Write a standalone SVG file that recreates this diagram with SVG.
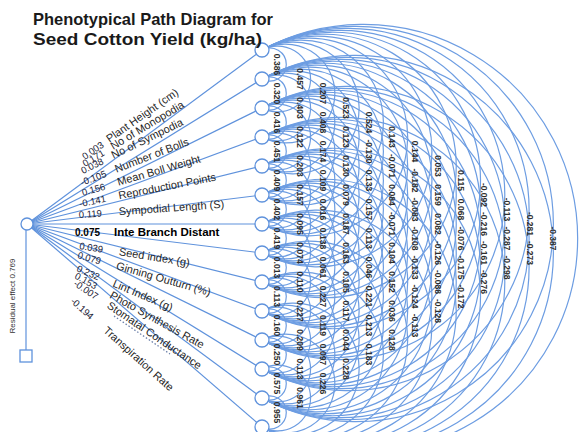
<svg xmlns="http://www.w3.org/2000/svg" width="588" height="432" viewBox="0 0 588 432">
<style>
.arc{fill:none;stroke:#6d9de2;stroke-width:1.2}
.ln{fill:none;stroke:#5f92dc;stroke-width:1.2}
.nd{fill:#fff;stroke:#5f92dc;stroke-width:1.3}
.c{font-family:'Liberation Sans',Arial,sans-serif;font-size:8.5px;font-weight:bold;fill:#2e2e2e;text-anchor:middle}
.v{font-family:'Liberation Sans',Arial,sans-serif;font-size:9.5px;fill:#222236}
.n{font-family:'Liberation Sans',Arial,sans-serif;font-size:11px;fill:#1f1f1f}
.b{font-family:'Liberation Sans',Arial,sans-serif;font-size:11.5px;font-weight:bold;fill:#000}
.t{font-family:'Liberation Sans',Arial,sans-serif;font-size:17px;font-weight:bold;fill:#1a1a1a}
.r{font-family:'Liberation Sans',Arial,sans-serif;font-size:8px;fill:#333}
</style>
<rect width="588" height="432" fill="#fff"/>
<g id="connectors">
<path class="ln" d="M27 224L262 50"/>
<path class="ln" d="M27 224L262 79"/>
<path class="ln" d="M27 224L262 108"/>
<path class="ln" d="M27 224L262 137"/>
<path class="ln" d="M27 224L262 166"/>
<path class="ln" d="M27 224L262 195"/>
<path class="ln" d="M27 224L262 224"/>
<path class="ln" d="M27 224L262 253"/>
<path class="ln" d="M27 224L262 282"/>
<path class="ln" d="M27 224L262 311"/>
<path class="ln" d="M27 224L262 340"/>
<path class="ln" d="M27 224L262 369"/>
<path class="ln" d="M27 224L262 398"/>
<path class="ln" d="M27 224L262 427"/>
<path class="ln" d="M26 230L26 350"/>
<path d="M114 316L170 354" fill="none" stroke="#6a7fa8" stroke-width="1.3" stroke-dasharray="1.5 2"/>
<path class="arc" d="M262 50A16.47 16.47 0 1 1 262 79"/>
<path class="arc" d="M262 79A16.47 16.47 0 1 1 262 108"/>
<path class="arc" d="M262 108A16.47 16.47 0 1 1 262 137"/>
<path class="arc" d="M262 137A16.47 16.47 0 1 1 262 166"/>
<path class="arc" d="M262 166A16.47 16.47 0 1 1 262 195"/>
<path class="arc" d="M262 195A16.47 16.47 0 1 1 262 224"/>
<path class="arc" d="M262 224A16.47 16.47 0 1 1 262 253"/>
<path class="arc" d="M262 253A16.47 16.47 0 1 1 262 282"/>
<path class="arc" d="M262 282A16.47 16.47 0 1 1 262 311"/>
<path class="arc" d="M262 311A16.47 16.47 0 1 1 262 340"/>
<path class="arc" d="M262 340A16.47 16.47 0 1 1 262 369"/>
<path class="arc" d="M262 369A16.47 16.47 0 1 1 262 398"/>
<path class="arc" d="M262 398A16.47 16.47 0 1 1 262 427"/>
<path class="arc" d="M262 50A32.94 32.94 0 1 1 262 108"/>
<path class="arc" d="M262 79A32.94 32.94 0 1 1 262 137"/>
<path class="arc" d="M262 108A32.94 32.94 0 1 1 262 166"/>
<path class="arc" d="M262 137A32.94 32.94 0 1 1 262 195"/>
<path class="arc" d="M262 166A32.94 32.94 0 1 1 262 224"/>
<path class="arc" d="M262 195A32.94 32.94 0 1 1 262 253"/>
<path class="arc" d="M262 224A32.94 32.94 0 1 1 262 282"/>
<path class="arc" d="M262 253A32.94 32.94 0 1 1 262 311"/>
<path class="arc" d="M262 282A32.94 32.94 0 1 1 262 340"/>
<path class="arc" d="M262 311A32.94 32.94 0 1 1 262 369"/>
<path class="arc" d="M262 340A32.94 32.94 0 1 1 262 398"/>
<path class="arc" d="M262 369A32.94 32.94 0 1 1 262 427"/>
<path class="arc" d="M262 50A49.41 49.41 0 1 1 262 137"/>
<path class="arc" d="M262 79A49.41 49.41 0 1 1 262 166"/>
<path class="arc" d="M262 108A49.41 49.41 0 1 1 262 195"/>
<path class="arc" d="M262 137A49.41 49.41 0 1 1 262 224"/>
<path class="arc" d="M262 166A49.41 49.41 0 1 1 262 253"/>
<path class="arc" d="M262 195A49.41 49.41 0 1 1 262 282"/>
<path class="arc" d="M262 224A49.41 49.41 0 1 1 262 311"/>
<path class="arc" d="M262 253A49.41 49.41 0 1 1 262 340"/>
<path class="arc" d="M262 282A49.41 49.41 0 1 1 262 369"/>
<path class="arc" d="M262 311A49.41 49.41 0 1 1 262 398"/>
<path class="arc" d="M262 340A49.41 49.41 0 1 1 262 427"/>
<path class="arc" d="M262 50A65.88 65.88 0 1 1 262 166"/>
<path class="arc" d="M262 79A65.88 65.88 0 1 1 262 195"/>
<path class="arc" d="M262 108A65.88 65.88 0 1 1 262 224"/>
<path class="arc" d="M262 137A65.88 65.88 0 1 1 262 253"/>
<path class="arc" d="M262 166A65.88 65.88 0 1 1 262 282"/>
<path class="arc" d="M262 195A65.88 65.88 0 1 1 262 311"/>
<path class="arc" d="M262 224A65.88 65.88 0 1 1 262 340"/>
<path class="arc" d="M262 253A65.88 65.88 0 1 1 262 369"/>
<path class="arc" d="M262 282A65.88 65.88 0 1 1 262 398"/>
<path class="arc" d="M262 311A65.88 65.88 0 1 1 262 427"/>
<path class="arc" d="M262 50A82.35 82.35 0 1 1 262 195"/>
<path class="arc" d="M262 79A82.35 82.35 0 1 1 262 224"/>
<path class="arc" d="M262 108A82.35 82.35 0 1 1 262 253"/>
<path class="arc" d="M262 137A82.35 82.35 0 1 1 262 282"/>
<path class="arc" d="M262 166A82.35 82.35 0 1 1 262 311"/>
<path class="arc" d="M262 195A82.35 82.35 0 1 1 262 340"/>
<path class="arc" d="M262 224A82.35 82.35 0 1 1 262 369"/>
<path class="arc" d="M262 253A82.35 82.35 0 1 1 262 398"/>
<path class="arc" d="M262 282A82.35 82.35 0 1 1 262 427"/>
<path class="arc" d="M262 50A98.82 98.82 0 1 1 262 224"/>
<path class="arc" d="M262 79A98.82 98.82 0 1 1 262 253"/>
<path class="arc" d="M262 108A98.82 98.82 0 1 1 262 282"/>
<path class="arc" d="M262 137A98.82 98.82 0 1 1 262 311"/>
<path class="arc" d="M262 166A98.82 98.82 0 1 1 262 340"/>
<path class="arc" d="M262 195A98.82 98.82 0 1 1 262 369"/>
<path class="arc" d="M262 224A98.82 98.82 0 1 1 262 398"/>
<path class="arc" d="M262 253A98.82 98.82 0 1 1 262 427"/>
<path class="arc" d="M262 50A115.29 115.29 0 1 1 262 253"/>
<path class="arc" d="M262 79A115.29 115.29 0 1 1 262 282"/>
<path class="arc" d="M262 108A115.29 115.29 0 1 1 262 311"/>
<path class="arc" d="M262 137A115.29 115.29 0 1 1 262 340"/>
<path class="arc" d="M262 166A115.29 115.29 0 1 1 262 369"/>
<path class="arc" d="M262 195A115.29 115.29 0 1 1 262 398"/>
<path class="arc" d="M262 224A115.29 115.29 0 1 1 262 427"/>
<path class="arc" d="M262 50A131.76 131.76 0 1 1 262 282"/>
<path class="arc" d="M262 79A131.76 131.76 0 1 1 262 311"/>
<path class="arc" d="M262 108A131.76 131.76 0 1 1 262 340"/>
<path class="arc" d="M262 137A131.76 131.76 0 1 1 262 369"/>
<path class="arc" d="M262 166A131.76 131.76 0 1 1 262 398"/>
<path class="arc" d="M262 195A131.76 131.76 0 1 1 262 427"/>
<path class="arc" d="M262 50A148.23 148.23 0 1 1 262 311"/>
<path class="arc" d="M262 79A148.23 148.23 0 1 1 262 340"/>
<path class="arc" d="M262 108A148.23 148.23 0 1 1 262 369"/>
<path class="arc" d="M262 137A148.23 148.23 0 1 1 262 398"/>
<path class="arc" d="M262 166A148.23 148.23 0 1 1 262 427"/>
<path class="arc" d="M262 50A164.7 164.7 0 1 1 262 340"/>
<path class="arc" d="M262 79A164.7 164.7 0 1 1 262 369"/>
<path class="arc" d="M262 108A164.7 164.7 0 1 1 262 398"/>
<path class="arc" d="M262 137A164.7 164.7 0 1 1 262 427"/>
<path class="arc" d="M262 50A181.17 181.17 0 1 1 262 369"/>
<path class="arc" d="M262 79A181.17 181.17 0 1 1 262 398"/>
<path class="arc" d="M262 108A181.17 181.17 0 1 1 262 427"/>
<path class="arc" d="M262 50A197.64 197.64 0 1 1 262 398"/>
<path class="arc" d="M262 79A197.64 197.64 0 1 1 262 427"/>
<path class="arc" d="M262 50A214.11 214.11 0 1 1 262 427"/>
</g>
<g id="hub"><circle class="nd" cx="27" cy="224" r="6"/></g>
<g id="residual"><rect class="nd" x="20" y="350" width="12" height="12"/><text class="r" transform="translate(15 296) rotate(-90)" text-anchor="middle">Residual effect  0.769</text></g>
<g id="n0"><circle class="nd" cx="262" cy="50" r="7"/></g>
<g id="n1"><circle class="nd" cx="262" cy="79" r="7"/></g>
<g id="n2"><circle class="nd" cx="262" cy="108" r="7"/></g>
<g id="n3"><circle class="nd" cx="262" cy="137" r="7"/></g>
<g id="n4"><circle class="nd" cx="262" cy="166" r="7"/></g>
<g id="n5"><circle class="nd" cx="262" cy="195" r="7"/></g>
<g id="n6"><circle class="nd" cx="262" cy="224" r="7"/></g>
<g id="n7"><circle class="nd" cx="262" cy="253" r="7"/></g>
<g id="n8"><circle class="nd" cx="262" cy="282" r="7"/></g>
<g id="n9"><circle class="nd" cx="262" cy="311" r="7"/></g>
<g id="n10"><circle class="nd" cx="262" cy="340" r="7"/></g>
<g id="n11"><circle class="nd" cx="262" cy="369" r="7"/></g>
<g id="n12"><circle class="nd" cx="262" cy="398" r="7"/></g>
<g id="n13"><circle class="nd" cx="262" cy="427" r="7"/></g>
<g id="path-labels">
<g transform="translate(85 160) rotate(-35)"><text class="v">0.003</text><text class="n" x="30">Plant Height (cm)</text></g>
<g transform="translate(85 167) rotate(-31)"><text class="v">0.171</text><text class="n" x="33">No of Monopodia</text></g>
<g transform="translate(83 174) rotate(-26)"><text class="v">0.038</text><text class="n" x="34">No of Sympodia</text></g>
<g transform="translate(82 186) rotate(-21)"><text class="v">-0.105</text><text class="n" x="37">Number of Bolls</text></g>
<g transform="translate(83 196) rotate(-16)"><text class="v">0.156</text><text class="n" x="37">Mean Boll Weight</text></g>
<g transform="translate(80 207) rotate(-11)"><text class="v">-0.141</text><text class="n" x="40">Reproduction Points</text></g>
<g transform="translate(79 218) rotate(-4)"><text class="v">0.119</text><text class="n" x="40">Sympodial Length (S)</text></g>
<g transform="translate(75 236)"><text class="b" style="font-size:10px">0.075</text><text class="b" x="39">Inte Branch Distant</text></g>
<g transform="translate(79 249) rotate(9)"><text class="v">0.039</text><text class="n" x="40">Seed index (g)</text></g>
<g transform="translate(77 258) rotate(16)"><text class="v">0.079</text><text class="n" x="40">Ginning Outturn (%)</text></g>
<g transform="translate(76 271) rotate(23)"><text class="v">0.232</text><text class="n" x="39">Lint Index (g)</text></g>
<g transform="translate(74 278) rotate(29)"><text class="v">0.153</text><text class="n" x="40">Photo Synthesis Rate</text></g>
<g transform="translate(73 285) rotate(34)"><text class="v">-0.007</text><text class="n" x="40">Stomatal Conductance</text></g>
<g transform="translate(70 302) rotate(42)"><text class="v">-0.194</text><text class="n" x="44">Transpiration Rate</text></g>
</g>
<g id="corr-labels">
<text class="c" transform="translate(274 64.5) rotate(90)">0.386</text>
<text class="c" transform="translate(274 93.5) rotate(90)">0.320</text>
<text class="c" transform="translate(274 122.5) rotate(90)">0.416</text>
<text class="c" transform="translate(274 151.5) rotate(90)">0.451</text>
<text class="c" transform="translate(274 180.5) rotate(90)">0.409</text>
<text class="c" transform="translate(274 209.5) rotate(90)">0.402</text>
<text class="c" transform="translate(274 238.5) rotate(90)">0.419</text>
<text class="c" transform="translate(274 267.5) rotate(90)">0.013</text>
<text class="c" transform="translate(274 296.5) rotate(90)">0.113</text>
<text class="c" transform="translate(274 325.5) rotate(90)">0.160</text>
<text class="c" transform="translate(274 354.5) rotate(90)">0.250</text>
<text class="c" transform="translate(274 383.5) rotate(90)">0.575</text>
<text class="c" transform="translate(274 412.5) rotate(90)">0.955</text>
<text class="c" transform="translate(297 79) rotate(90)">0.457</text>
<text class="c" transform="translate(297 108) rotate(90)">0.403</text>
<text class="c" transform="translate(297 137) rotate(90)">0.122</text>
<text class="c" transform="translate(297 166) rotate(90)">0.203</text>
<text class="c" transform="translate(297 195) rotate(90)">0.157</text>
<text class="c" transform="translate(297 224) rotate(90)">0.095</text>
<text class="c" transform="translate(297 253) rotate(90)">0.074</text>
<text class="c" transform="translate(297 282) rotate(90)">0.110</text>
<text class="c" transform="translate(297 311) rotate(90)">0.227</text>
<text class="c" transform="translate(297 340) rotate(90)">0.209</text>
<text class="c" transform="translate(297 369) rotate(90)">0.113</text>
<text class="c" transform="translate(297 398) rotate(90)">0.961</text>
<text class="c" transform="translate(320 93.5) rotate(90)">0.207</text>
<text class="c" transform="translate(320 122.5) rotate(90)">0.408</text>
<text class="c" transform="translate(320 151.5) rotate(90)">0.174</text>
<text class="c" transform="translate(320 180.5) rotate(90)">0.109</text>
<text class="c" transform="translate(320 209.5) rotate(90)">0.016</text>
<text class="c" transform="translate(320 238.5) rotate(90)">0.138</text>
<text class="c" transform="translate(320 267.5) rotate(90)">0.061</text>
<text class="c" transform="translate(320 296.5) rotate(90)">0.227</text>
<text class="c" transform="translate(320 325.5) rotate(90)">0.119</text>
<text class="c" transform="translate(320 354.5) rotate(90)">0.097</text>
<text class="c" transform="translate(320 383.5) rotate(90)">0.226</text>
<text class="c" transform="translate(343 108) rotate(90)">0.523</text>
<text class="c" transform="translate(343 137) rotate(90)">0.123</text>
<text class="c" transform="translate(343 166) rotate(90)">0.130</text>
<text class="c" transform="translate(343 195) rotate(90)">0.079</text>
<text class="c" transform="translate(343 224) rotate(90)">0.187</text>
<text class="c" transform="translate(343 253) rotate(90)">0.163</text>
<text class="c" transform="translate(343 282) rotate(90)">0.105</text>
<text class="c" transform="translate(343 311) rotate(90)">0.117</text>
<text class="c" transform="translate(343 340) rotate(90)">0.044</text>
<text class="c" transform="translate(343 369) rotate(90)">0.228</text>
<text class="c" transform="translate(366 122.5) rotate(90)">0.524</text>
<text class="c" transform="translate(366 151.5) rotate(90)">-0.130</text>
<text class="c" transform="translate(366 180.5) rotate(90)">0.133</text>
<text class="c" transform="translate(366 209.5) rotate(90)">0.157</text>
<text class="c" transform="translate(366 238.5) rotate(90)">0.113</text>
<text class="c" transform="translate(366 267.5) rotate(90)">0.046</text>
<text class="c" transform="translate(366 296.5) rotate(90)">0.221</text>
<text class="c" transform="translate(366 325.5) rotate(90)">0.213</text>
<text class="c" transform="translate(366 354.5) rotate(90)">0.183</text>
<text class="c" transform="translate(389 137) rotate(90)">0.143</text>
<text class="c" transform="translate(389 166) rotate(90)">-0.071</text>
<text class="c" transform="translate(389 195) rotate(90)">0.084</text>
<text class="c" transform="translate(389 224) rotate(90)">-0.071</text>
<text class="c" transform="translate(389 253) rotate(90)">0.104</text>
<text class="c" transform="translate(389 282) rotate(90)">0.152</text>
<text class="c" transform="translate(389 311) rotate(90)">0.036</text>
<text class="c" transform="translate(389 340) rotate(90)">0.128</text>
<text class="c" transform="translate(412 151.5) rotate(90)">0.144</text>
<text class="c" transform="translate(412 180.5) rotate(90)">-0.182</text>
<text class="c" transform="translate(412 209.5) rotate(90)">-0.083</text>
<text class="c" transform="translate(412 238.5) rotate(90)">-0.108</text>
<text class="c" transform="translate(412 267.5) rotate(90)">-0.133</text>
<text class="c" transform="translate(412 296.5) rotate(90)">-0.124</text>
<text class="c" transform="translate(412 325.5) rotate(90)">-0.113</text>
<text class="c" transform="translate(435 166) rotate(90)">0.053</text>
<text class="c" transform="translate(435 195) rotate(90)">0.159</text>
<text class="c" transform="translate(435 224) rotate(90)">0.082</text>
<text class="c" transform="translate(435 253) rotate(90)">-0.126</text>
<text class="c" transform="translate(435 282) rotate(90)">-0.088</text>
<text class="c" transform="translate(435 311) rotate(90)">-0.128</text>
<text class="c" transform="translate(458 180.5) rotate(90)">0.115</text>
<text class="c" transform="translate(458 209.5) rotate(90)">0.068</text>
<text class="c" transform="translate(458 238.5) rotate(90)">-0.076</text>
<text class="c" transform="translate(458 267.5) rotate(90)">-0.175</text>
<text class="c" transform="translate(458 296.5) rotate(90)">-0.172</text>
<text class="c" transform="translate(481 195) rotate(90)">-0.092</text>
<text class="c" transform="translate(481 224) rotate(90)">-0.216</text>
<text class="c" transform="translate(481 253) rotate(90)">-0.161</text>
<text class="c" transform="translate(481 282) rotate(90)">-0.276</text>
<text class="c" transform="translate(504 209.5) rotate(90)">-0.113</text>
<text class="c" transform="translate(504 238.5) rotate(90)">-0.287</text>
<text class="c" transform="translate(504 267.5) rotate(90)">-0.298</text>
<text class="c" transform="translate(527 224) rotate(90)">-0.281</text>
<text class="c" transform="translate(527 253) rotate(90)">-0.273</text>
<text class="c" transform="translate(550 238.5) rotate(90)">-0.387</text>
</g>
<g id="title">
<text class="t" x="33" y="25" textLength="240" lengthAdjust="spacingAndGlyphs">Phenotypical Path Diagram for</text>
<text class="t" x="33" y="45" textLength="229" lengthAdjust="spacingAndGlyphs">Seed Cotton Yield (kg/ha)</text>
</g>
</svg>
